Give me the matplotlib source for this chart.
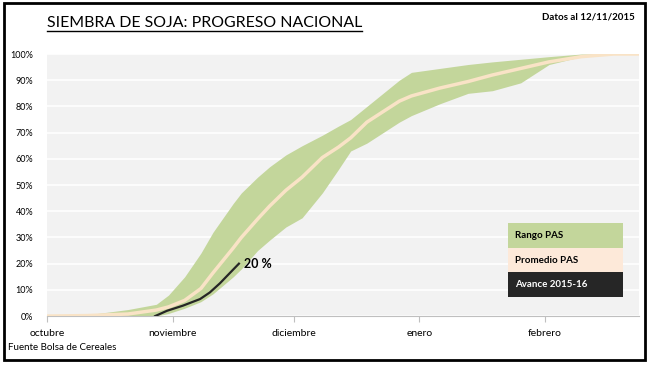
import matplotlib
matplotlib.use('Agg')

import matplotlib.pyplot as plt
from matplotlib.patches import Rectangle
from matplotlib.lines import Line2D

# days since 1 October
band_days = [0, 10, 20, 27, 30, 34, 38, 41, 46, 48, 52, 55, 59, 63, 68, 72, 75,
             79, 87, 90, 97, 104, 110, 117, 124, 132, 140, 146]
rango_max = [0, 0.5, 2.5, 4.5, 8, 15, 24, 32, 43, 47, 53, 57, 61.5, 65, 69, 72.5, 75,
             80, 90, 93, 94.5, 96, 97, 98, 99, 100, 100, 100]
rango_min = [0, 0, 0, 0, 1, 3, 5.5, 8.5, 15, 18, 25, 29, 34, 37.5, 47, 56, 63,
             66, 74, 76.5, 81, 85, 86, 89, 96, 99, 100, 100]
promedio = [0, 0.2, 0.8, 2.3, 3.5, 6, 10.5, 16.5, 26, 30, 37, 42, 48, 53, 60.5, 64.5, 68,
            74, 82, 84, 87, 89.5, 92, 94.5, 97, 99, 100, 100]

avance_days = [26.7, 29.6, 33.6, 37.8, 40.2, 42.7, 45.2, 47.4]
avance = [0, 2, 4, 6.5, 9, 12.5, 16.5, 20]

month_days = [0, 31, 61, 92, 123]
month_labels = ['octubre', 'noviembre', 'diciembre', 'enero', 'febrero']
y_ticks = list(range(0, 101, 10))

legend_labels = ['Rango PAS', 'Promedio PAS', 'Avance 2015-16']

green = '#c3d69b'
peach = '#fde9d9'
dark = '#262626'

plt.rcParams['font.family'] = ['Lato', 'DejaVu Sans']

fig = plt.figure(figsize=(6.5, 3.65), dpi=100)
ax = fig.add_axes([0.0723, 0.134, 0.9107, 0.718])
ax.set_facecolor('#f2f2f2')

ax.fill_between(band_days, rango_min, rango_max, color=green, lw=0, zorder=2)
ax.plot(band_days, promedio, color='#f9e3c6', lw=2.5, zorder=3,
        solid_joinstyle='round')
ax.plot(avance_days, avance, color=dark, lw=1.6, zorder=4)
ax.text(avance_days[-1] + 1.2, avance[-1], '20 %', fontsize=9, fontweight='bold',
        va='center', ha='left', zorder=5)

ax.set_xlim(0, 146.2)
ax.set_ylim(0, 100)
ax.set_yticks(y_ticks)
ax.set_yticklabels(['%d%%' % v for v in y_ticks], fontsize=6.5)
ax.set_xticks(month_days)
ax.set_xticklabels(month_labels, fontsize=7.5)
ax.grid(axis='y', color='white', lw=1.2, zorder=1)
ax.set_axisbelow(True)
for s in ['top', 'right', 'left']:
    ax.spines[s].set_visible(False)
ax.spines['bottom'].set_color('#bfbfbf')
ax.tick_params(axis='y', length=0, pad=10)
ax.tick_params(axis='x', length=4, color='#bfbfbf', pad=5)

# legend boxes
colors = [green, peach, dark]
text_colors = ['black', 'black', 'white']
box_x0, box_w, box_h = 508, 115, 24.7
for i, lab in enumerate(legend_labels):
    y_top = 223 + i * box_h
    fig.patches.append(Rectangle((box_x0 / 650, 1 - (y_top + box_h) / 365),
                                 box_w / 650, box_h / 365, transform=fig.transFigure,
                                 facecolor=colors[i], edgecolor='none', zorder=5))
    fig.text((box_x0 + 7) / 650, 1 - (y_top + box_h / 2) / 365, lab, fontsize=7,
             fontweight='bold', color=text_colors[i], va='center', ha='left', zorder=6)

# title with underline
title = fig.text(47 / 650, 1 - 23 / 365, 'SIEMBRA DE SOJA: PROGRESO NACIONAL',
                 fontsize=11.4, va='center', ha='left')
fig.canvas.draw()
bb = title.get_window_extent().transformed(fig.transFigure.inverted())
fig.add_artist(Line2D([bb.x0, bb.x1], [bb.y0 - 0.004, bb.y0 - 0.004], color='black',
                      lw=1, transform=fig.transFigure))

fig.text(635 / 650, 1 - 17 / 365, 'Datos al 12/11/2015', fontsize=7, fontweight='bold',
         ha='right', va='center')
fig.text(8 / 650, 1 - 348 / 365, 'Fuente Bolsa de Cereales', fontsize=7,
         ha='left', va='center')

# frame around the picture
fig.patches.append(Rectangle((4 / 650, 5 / 365), 641 / 650, 357 / 365,
                             transform=fig.transFigure, fill=False,
                             edgecolor='black', lw=2))

fig.savefig('out.png', dpi=100)
